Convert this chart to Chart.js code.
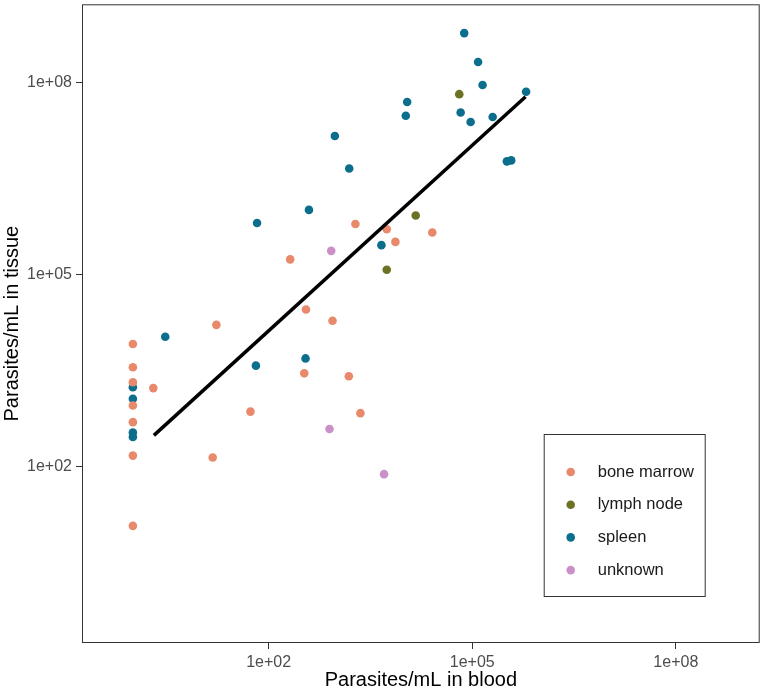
<!DOCTYPE html>
<html>
<head>
<meta charset="utf-8">
<script src="https://cdn.jsdelivr.net/npm/chart.js@4.4.1/dist/chart.umd.min.js"></script>
<style>
  body { margin: 0; background: #fff; }
</style>
</head>
<body>
<canvas id="parasitesctr" width="764" height="692"></canvas>
<script>
// data (parasites/mL)
const boneMarrowBlood  = [1, 1, 1, 1, 1, 1, 1, 2, 54, 15, 208, 17, 1900, 5500, 25800, 7380, 355, 874, 335, 1520, 2250];
const boneMarrowTissue = [8300, 3600, 2100, 910, 500, 150, 12, 1700, 730, 140, 174000, 16500, 621000, 514000, 456000, 326000, 28600, 19100, 2890, 2600, 690];

const lymphNodeBlood  = [64400, 14700, 5500];
const lymphNodeTissue = [6.6e7, 840000, 120000];

const spleenBlood  = [1, 1, 1, 1, 3, 65, 67.5, 76200, 122000, 142000, 622000, 11000, 10500, 67500, 94700, 200000, 946, 1540, 324000, 375000, 393, 4590, 350];
const spleenTissue = [1750, 1160, 343, 293, 10760, 3810, 642000, 5.93e8, 2.1e8, 9.2e7, 7.2e7, 4.97e7, 3.04e7, 3.42e7, 2.43e7, 2.9e7, 1.47e7, 4.56e6, 5.9e6, 6.1e6, 1.03e6, 290000, 4940];

const unknownBlood  = [836, 789, 5020];
const unknownTissue = [236000, 390, 77];

// regression line end points
const fitBlood  = [2.04, 610000];
const fitTissue = [311, 6.0e7];

const tickValues = [1e2, 1e5, 1e8];
const axisMin = 0.178;
const axisMaxX = 1.72e9;
const axisMaxY = 1.67e9;

const FONT = '"Liberation Sans", Arial, Helvetica, sans-serif';

function pts(xs, ys) {
  return xs.map((x, i) => ({ x: x, y: ys[i] }));
}

function sciLabel(v) {
  const e = Math.round(Math.log10(v));
  return '1e' + (e < 0 ? '-' : '+') + String(Math.abs(e)).padStart(2, '0');
}

// panel border + legend box inside the plot
const panelPlugin = {
  id: 'panelPlugin',
  afterDraw(chart) {
    const ctx = chart.ctx;
    const a = chart.chartArea;
    ctx.save();
    ctx.strokeStyle = '#333333';
    ctx.lineWidth = 1;
    ctx.strokeRect(a.left + 0.5, a.top + 0.5, a.right - a.left - 1, a.bottom - a.top - 1);

    const items = chart.data.datasets.filter(d => !d.hideInLegend);
    const boxL = a.right - 216, boxR = a.right - 55;
    const boxT = a.bottom - 209, boxB = a.bottom - 47;
    ctx.strokeRect(boxL + 0.5, boxT + 0.5, boxR - boxL, boxB - boxT);
    ctx.font = '16.5px ' + FONT;
    ctx.textBaseline = 'middle';
    ctx.textAlign = 'left';
    items.forEach((d, i) => {
      const y = boxT + 38 + i * 32.7;
      ctx.fillStyle = d.backgroundColor;
      ctx.beginPath();
      ctx.arc(boxL + 27, y, 4.3, 0, Math.PI * 2);
      ctx.fill();
      ctx.fillStyle = '#1a1a1a';
      ctx.fillText(d.label, boxL + 54, y);
    });
    ctx.restore();
  }
};

const logAxis = (title, max, fitSize) => ({
  type: 'logarithmic',
  min: axisMin,
  max: max,
  bounds: 'data',
  afterBuildTicks: s => { s.ticks = tickValues.map(v => ({ value: v })); },
  afterFit: s => {
    fitSize(s);
    s.paddingTop = 0; s.paddingBottom = 0; s.paddingLeft = 0; s.paddingRight = 0;
  },
  border: { display: false },
  grid: { drawOnChartArea: false, drawTicks: true, tickLength: 6, color: '#333333', lineWidth: 1 },
  ticks: {
    callback: v => sciLabel(v),
    color: '#4d4d4d',
    font: { family: FONT, size: 16 },
    padding: 4,
    maxRotation: 0,
    autoSkip: false
  },
  title: {
    display: true,
    text: title,
    color: '#000000',
    font: { family: FONT, size: 20 },
    padding: 0
  }
});

const ctxParasites = document.getElementById('parasitesctr').getContext('2d');
const parasitesChart = new Chart(ctxParasites, {
  type: 'scatter',
  data: {
    datasets: [
      { label: 'bone marrow', data: pts(boneMarrowBlood, boneMarrowTissue), backgroundColor: '#E8896B' },
      { label: 'lymph node',  data: pts(lymphNodeBlood, lymphNodeTissue),   backgroundColor: '#6D7123' },
      { label: 'spleen',      data: pts(spleenBlood, spleenTissue),         backgroundColor: '#0C6E8D' },
      { label: 'unknown',     data: pts(unknownBlood, unknownTissue),       backgroundColor: '#CB90C8' },
      {
        label: 'fit',
        type: 'line',
        data: pts(fitBlood, fitTissue),
        borderColor: '#000000',
        borderWidth: 3.5,
        pointRadius: 0,
        borderCapStyle: 'butt',
        hideInLegend: true,
        order: -1
      }
    ]
  },
  options: {
    responsive: false,
    animation: false,
    events: [],
    layout: { padding: { top: 2, right: 0, left: 0, bottom: 0 } },
    elements: { point: { radius: 4.3, borderWidth: 0 } },
    plugins: {
      legend: { display: false },
      tooltip: { enabled: false }
    },
    scales: {
      x: logAxis('Parasites/mL in blood', axisMaxX, s => { s.height = 49; }),
      y: logAxis('Parasites/mL in tissue', axisMaxY, s => { s.width = 82; })
    }
  },
  plugins: [panelPlugin]
});
</script>
</body>
</html>
